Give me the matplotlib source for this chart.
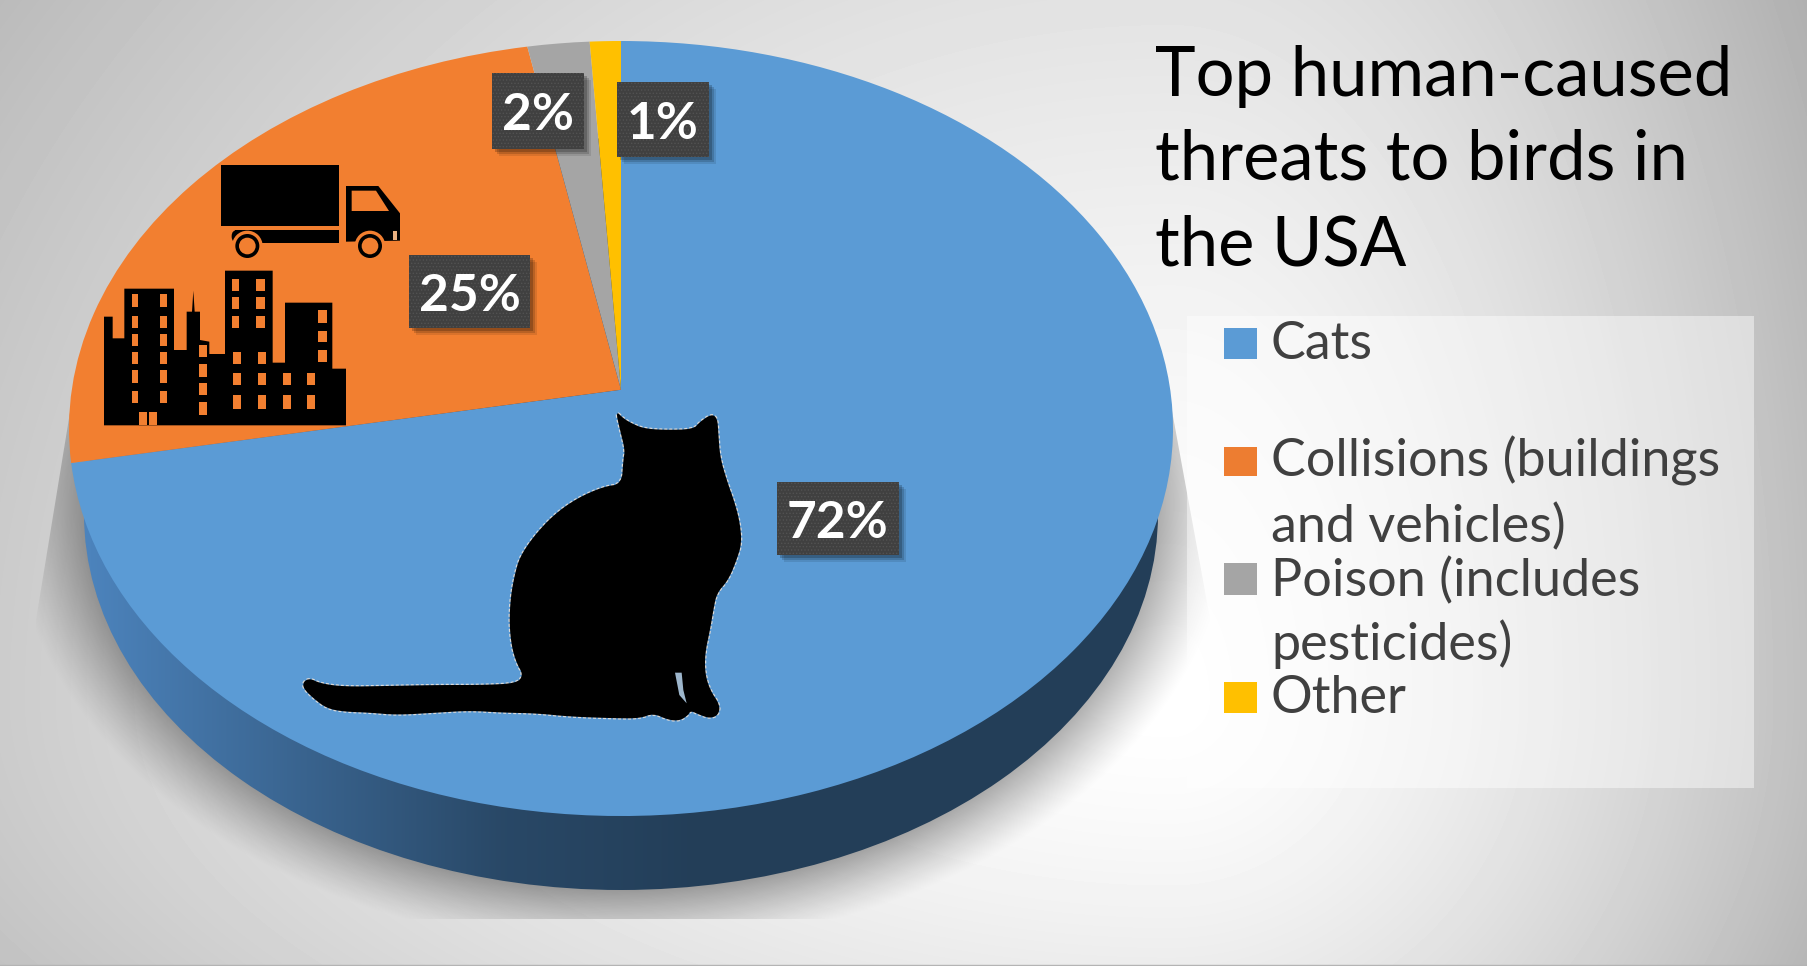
import matplotlib
matplotlib.use('Agg')
import matplotlib.pyplot as plt
from matplotlib.patches import Rectangle, Ellipse, Polygon, Circle, FancyBboxPatch
from matplotlib.transforms import Transform
import numpy as np

plt.rcParams['font.family'] = ['Lato', 'DejaVu Sans']

# chart data
categories = ['Cats', 'Collisions (buildings\nand vehicles)', 'Poison (includes\npesticides)', 'Other']
shares = [72, 25, 2, 1]
colors = ['#5B9BD5', '#F27F30', '#A5A5A5', '#FFC000']
title_lines = ['Top human-caused', 'threats to birds in', 'the USA']

W, H = 1807, 966
# top face of the pie on the canvas
CX, CY, RX, RY = 621, 428.5, 552, 387.5
TILT = 0.1


class TiltTransform(Transform):
    """Maps the unit circle onto itself, moving the centre up like a perspective view."""
    input_dims = 2
    output_dims = 2
    is_separable = False

    def __init__(self, b):
        super().__init__()
        self.b = b

    def transform_non_affine(self, values):
        u, v = values[:, 0], values[:, 1]
        d = 1 + self.b * v
        return np.column_stack([np.sqrt(1 - self.b ** 2) * u / d, (v + self.b) / d])


def px_axes(fig, zorder):
    ax = fig.add_axes([0, 0, 1, 1], zorder=zorder)
    ax.set_xlim(0, W)
    ax.set_ylim(H, 0)
    ax.axis('off')
    return ax


def smooth(points, rounds=2):
    # corner cutting so the hand-placed outline reads as a curve
    pts = np.array(points, dtype=float)
    for _ in range(rounds):
        nxt = np.roll(pts, -1, axis=0)
        pts = np.column_stack([0.75 * pts + 0.25 * nxt, 0.25 * pts + 0.75 * nxt]).reshape(-1, 2)
    return pts


fig = plt.figure(figsize=(W / 100, H / 100), dpi=100)
back = px_axes(fig, 0)

# page background
X, Y = np.meshgrid(np.arange(W) + 0.5, np.arange(H) + 0.5)
dx = (X - 1170) / np.where(X < 1170, 1350, 637)
dy = (Y - 700) / np.where(Y < 700, 1200, 600)
shade = 1 - 0.25 * (dx ** 2 + dy ** 2) ** 0.75
back.imshow(shade, cmap='gray', vmin=0, vmax=1, extent=(0, W, H, 0), aspect='auto', zorder=0)

# soft shadow under the pie, cut off by its own rectangle
r = np.sqrt(((X - 621) / 600) ** 2 + ((Y - 505) / 435) ** 2)
fade = np.clip((1.02 - r) / 0.16, 0, 1)
rgba = np.zeros((H, W, 4))
rgba[..., 3] = 0.42 * fade ** 1.2
im = back.imshow(rgba, extent=(0, W, H, 0), aspect='auto', zorder=1)
im.set_clip_path(Polygon([(72, 400), (36, 620), (36, 919), (1225, 919), (1225, 700), (1170, 400)],
                         transform=back.transData))

# pie wall, darker towards the front
wall_stops = np.interp(np.arange(W), [90, 300, 500, 700, 1160], [0.0, 0.45, 0.85, 1.0, 1.0])
wall_a = np.array(matplotlib.colors.to_rgb('#4C83BC'))
wall_b = np.array(matplotlib.colors.to_rgb('#233E58'))
wall_img = wall_a[None, :] * (1 - wall_stops[:, None]) + wall_b[None, :] * wall_stops[:, None]
im = back.imshow(wall_img[None, :, :], extent=(0, W, H, 0), aspect='auto', zorder=2)
im.set_clip_path(Ellipse((621, 514), 2 * 537, 2 * 376, transform=back.transData))
back.set_xlim(0, W)
back.set_ylim(H, 0)

# legend panel
back.add_patch(Rectangle((1187, 316), 567, 472, fc='white', alpha=0.45, lw=0, zorder=3))
back.plot([0, W], [965, 965], color='#b4b4b4', lw=1, zorder=3)

# pie slices
pie_ax = fig.add_axes([(CX - RX) / W, (H - (CY + RY)) / H, 2 * RX / W, 2 * RY / H], zorder=1)
wedges, _ = pie_ax.pie(shares, colors=colors, startangle=90, counterclock=False, radius=1,
                       wedgeprops={'linewidth': 0})
pie_ax.set_aspect('auto')
pie_ax.set_xlim(-1, 1)
pie_ax.set_ylim(-1, 1)
tilt = TiltTransform(TILT)
for w in wedges:
    w.set_transform(tilt + pie_ax.transData)

top = px_axes(fig, 2)


# cat silhouette, outline taken in a 3x grid
def cat(x, y):
    return (270 + x / 3, 390 + y / 3)


cat_pts = [(1037, 62), (1060, 85), (1085, 100), (1120, 115), (1180, 120), (1270, 118), (1290, 95), (1325, 72),
           (1342, 85), (1345, 130), (1350, 200), (1370, 270), (1395, 340), (1410, 400), (1415, 460), (1400, 510),
           (1375, 570), (1340, 610), (1330, 660), (1320, 720), (1305, 790), (1305, 850), (1320, 900), (1350, 945),
           (1345, 975), (1320, 985), (1290, 975), (1262, 962), (1255, 975), (1230, 992), (1195, 990), (1150, 970),
           (1110, 985), (1040, 985), (900, 980), (800, 970), (700, 968), (600, 962), (500, 968), (380, 975),
           (300, 968), (220, 965), (170, 955), (130, 925), (100, 895), (100, 875), (120, 865), (150, 880),
           (220, 890), (350, 888), (500, 885), (640, 885), (740, 880), (760, 855), (740, 820), (725, 770),
           (718, 700), (722, 620), (735, 550), (750, 500), (790, 440), (850, 375), (920, 325), (1000, 290),
           (1055, 282), (1060, 210), (1065, 180), (1050, 120)]
cat_outline = smooth([cat(*p) for p in cat_pts])
top.add_patch(Polygon(cat_outline, fc='none', ec='#d8d8d8', lw=1.8, ls=(0, (1.2, 0.8)), zorder=1))
top.add_patch(Polygon(cat_outline, fc='black', lw=0, zorder=2))
top.add_patch(Polygon([cat(*p) for p in [(1215, 848), (1235, 848), (1240, 900), (1250, 940), (1228, 915)]],
                      fc='#9DB6CC', lw=0, zorder=3))


# truck and skyline icons, on their own 3x grid
def icon(x, y):
    return (90 + x / 3, 150 + y / 3)


def icon_rect(x0, y0, x1, y1, color, z=2):
    top.add_patch(Rectangle(icon(x0, y0), (x1 - x0) / 3, (y1 - y0) / 3, fc=color, lw=0, zorder=z))


ORANGE = colors[1]
icon_rect(392, 45, 748, 228, 'black')
top.add_patch(FancyBboxPatch(icon(425, 240), 323 / 3 - 5, 38 / 3, boxstyle='round,pad=0,rounding_size=6',
                             fc='black', lw=0, zorder=2))
icon_rect(435, 240, 748, 278, 'black')
top.add_patch(Polygon([icon(*p) for p in [(768, 108), (865, 108), (930, 190), (930, 272), (768, 275)]],
                      fc='black', lw=0, zorder=2))
top.add_patch(Polygon([icon(*p) for p in [(785, 122), (858, 122), (897, 183), (785, 183)]],
                      fc=ORANGE, lw=0, zorder=3))
icon_rect(910, 243, 922, 270, '#E8B080', 3)
for wx in (472, 840):
    top.add_patch(Circle(icon(wx, 288), 46 / 3, fc=ORANGE, lw=0, zorder=3))
    top.add_patch(Circle(icon(wx, 288), 36 / 3, fc='black', lw=0, zorder=4))
    top.add_patch(Circle(icon(wx, 288), 25 / 3, fc=ORANGE, lw=0, zorder=5))

skyline = [(42, 826), (42, 500), (68, 500), (68, 565), (103, 565), (103, 416), (252, 416), (252, 600), (290, 600),
           (290, 485), (306, 485), (310, 422), (314, 485), (330, 485), (330, 570), (358, 575), (358, 612),
           (405, 612), (405, 362), (548, 362), (548, 638), (585, 638), (585, 458), (727, 458), (727, 656),
           (768, 656), (768, 826)]
top.add_patch(Polygon([icon(*p) for p in skyline], fc='black', lw=0, zorder=2))
left_rows = [(433, 470), (497, 533), (552, 588), (606, 642), (660, 698), (723, 760)]
upper_rows = [(388, 422), (442, 476), (498, 534)]
lower_rows = [(606, 642), (668, 706), (736, 776)]
windows = [(125, 145, left_rows), (210, 232, left_rows),
           (328, 352, [(584, 620), (642, 680), (698, 736), (756, 794)]),
           (425, 448, upper_rows), (430, 452, lower_rows), (498, 524, upper_rows), (503, 527, lower_rows),
           (578, 603, lower_rows[1:]), (652, 676, lower_rows[1:]),
           (683, 712, [(480, 518), (542, 576), (600, 636)]), (148, 172, [(785, 826)]), (178, 200, [(785, 826)])]
for x0, x1, rows in windows:
    for y0, y1 in rows:
        icon_rect(x0, y0, x1, y1, ORANGE, 3)

# value labels on dark dotted boxes
label_boxes = [(777, 482, 899, 555), (409, 255, 530, 328), (492, 73, 584, 149), (617, 82, 709, 157)]
plt.rcParams['hatch.linewidth'] = 0.6
for value, (x0, y0, x1, y1) in zip(shares, label_boxes):
    for off, a in ((7, 0.10), (5, 0.15), (3, 0.2)):
        top.add_patch(Rectangle((x0 + off, y0 + off), x1 - x0, y1 - y0, fc='black', alpha=a, lw=0, zorder=6))
    top.add_patch(Rectangle((x0, y0), x1 - x0, y1 - y0, fc='#404040', ec='#525252', hatch='.....', lw=0, zorder=7))
    top.text((x0 + x1) / 2, (y0 + y1) / 2 + 5, f'{value}%', color='white', fontsize=37, fontweight='bold',
             ha='center', va='center', zorder=8)

# title
for line, base in zip(title_lines, [96, 180, 266]):
    top.text(1155, base, line, fontsize=49.5, color='black', ha='left', va='baseline')

# legend
legend_rows = [(328, 359, [(359, categories[0])]),
               (447, 476, [(477, 'Collisions (buildings'), (542, 'and vehicles)')]),
               (563, 595, [(596, 'Poison (includes'), (660, 'pesticides)')]),
               (682, 713, [(713, categories[3])])]
legend_colors = ['#5B9BD5', '#ED7D31', '#A5A5A5', '#FFC000']
for (y0, y1, rows), c in zip(legend_rows, legend_colors):
    top.add_patch(Rectangle((1224, y0), 33, y1 - y0, fc=c, lw=0))
    for base, txt in rows:
        top.text(1271, base, txt, fontsize=37.5, color='#404040', ha='left', va='baseline')

fig.savefig('out.png', dpi=100)
plt.close(fig)
